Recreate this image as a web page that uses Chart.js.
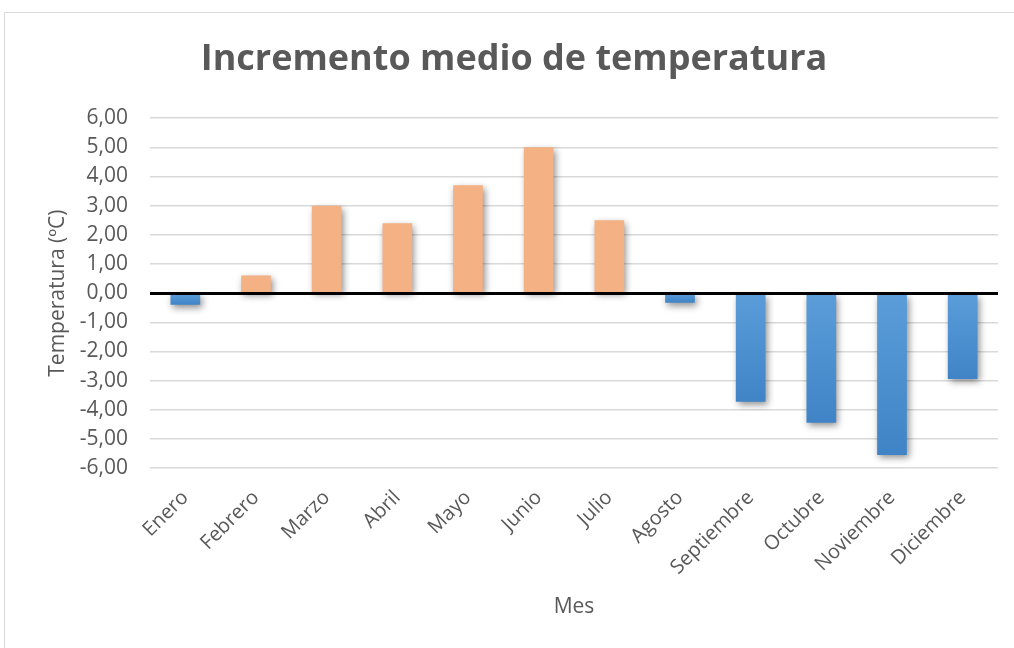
<!DOCTYPE html>
<html>
<head>
<meta charset="utf-8">
<script src="https://cdn.jsdelivr.net/npm/chart.js@4/dist/chart.umd.min.js"></script>
<style>
  html,body{margin:0;padding:0;background:#fff;}
  #wrap{position:relative;width:1014px;height:648px;}
</style>
</head>
<body>
<div id="wrap"><canvas id="c" width="1014" height="648"></canvas></div>
<script>
const months = ["Enero","Febrero","Marzo","Abril","Mayo","Junio","Julio","Agosto","Septiembre","Octubre","Noviembre","Diciembre"];
const increments = [-0.4, 0.6, 3.0, 2.4, 3.7, 5.0, 2.5, -0.33, -3.73, -4.45, -5.55, -2.95];
const yMin = -6, yMax = 6, yStep = 1;
const chartTitle = "Incremento medio de temperatura";
const xTitle = "Mes";
const yTitle = "Temperatura (ºC)";

const FONT = "'Open Sans', 'DejaVu Sans', sans-serif";
const TXT = "#595959";

function barColor(ctx){
  const v = ctx.raw;
  if (v >= 0) return "#F4B183";
  const chart = ctx.chart;
  if (!chart.chartArea) return "#5B9BD5";
  const y = chart.scales.y;
  const top = y.getPixelForValue(0);
  const bot = y.getPixelForValue(v);
  const g = chart.ctx.createLinearGradient(0, top, 0, bot);
  g.addColorStop(0, "#5B9DD9");
  g.addColorStop(1, "#4084C7");
  return g;
}

const outerBorder = {
  id: "outerBorder",
  beforeDraw(chart){
    const c = chart.ctx;
    c.save();
    c.fillStyle = "#fff";
    c.fillRect(0,0,chart.width,chart.height);
    c.strokeStyle = "#d9d9d9";
    c.lineWidth = 1;
    c.strokeRect(4.5, 12.5, chart.width + 20, chart.height + 20);
    c.restore();
  }
};

const barShadow = {
  id: "barShadow",
  beforeDatasetsDraw(chart){
    const c = chart.ctx;
    c.save();
    c.shadowColor = "rgba(0,0,0,0.45)";
    c.shadowBlur = 7;
    c.shadowOffsetX = 2;
    c.shadowOffsetY = 3;
  },
  afterDatasetsDraw(chart){
    chart.ctx.restore();
    const c = chart.ctx;
    const y = chart.scales.y;
    const a = chart.chartArea;
    const py = Math.round(y.getPixelForValue(0));
    c.save();
    c.strokeStyle = "#000";
    c.lineWidth = 3;
    c.beginPath();
    c.moveTo(a.left, py + 0.5);
    c.lineTo(a.right, py + 0.5);
    c.stroke();
    c.restore();
  }
};

new Chart(document.getElementById("c"), {
  type: "bar",
  data: {
    labels: months,
    datasets: [{
      data: increments,
      backgroundColor: barColor,
      borderWidth: 0,
      barPercentage: 0.7,
      categoryPercentage: 0.6
    }]
  },
  options: {
    responsive: false,
    animation: false,
    devicePixelRatio: 1,
    layout: { padding: { left: 30, right: 16, top: 24, bottom: 10 } },
    plugins: {
      legend: { display: false },
      tooltip: { enabled: false },
      title: {
        display: true,
        text: chartTitle,
        color: TXT,
        font: { family: FONT, size: 36, weight: "bold" },
        padding: { top: 14, bottom: 37 }
      }
    },
    scales: {
      x: {
        grid: { display: false, drawTicks: false },
        border: { display: false },
        ticks: {
          color: TXT,
          font: { family: FONT, size: 20 },
          minRotation: 45, maxRotation: 45,
          autoSkip: false,
          padding: 18
        },
        title: {
          display: true, text: xTitle, color: TXT,
          font: { family: FONT, size: 21 },
          padding: { top: 10, bottom: 18 }
        },
        afterFit(s){ s.height = 170; }
      },
      y: {
        min: yMin, max: yMax,
        grid: {
          color: "#d9d9d9",
          lineWidth: 1.5,
          drawTicks: false
        },
        border: { display: false },
        ticks: {
          stepSize: yStep,
          color: TXT,
          font: { family: FONT, size: 21 },
          padding: 22,
          callback: v => Number(v).toFixed(2).replace(".", ",")
        },
        title: {
          display: true, text: yTitle, color: TXT,
          font: { family: FONT, size: 21 },
          padding: { top: 15, bottom: 0 }
        },
        afterFit(s){ s.width = 120; }
      }
    }
  },
  plugins: [outerBorder, barShadow]
});
</script>
</body>
</html>
